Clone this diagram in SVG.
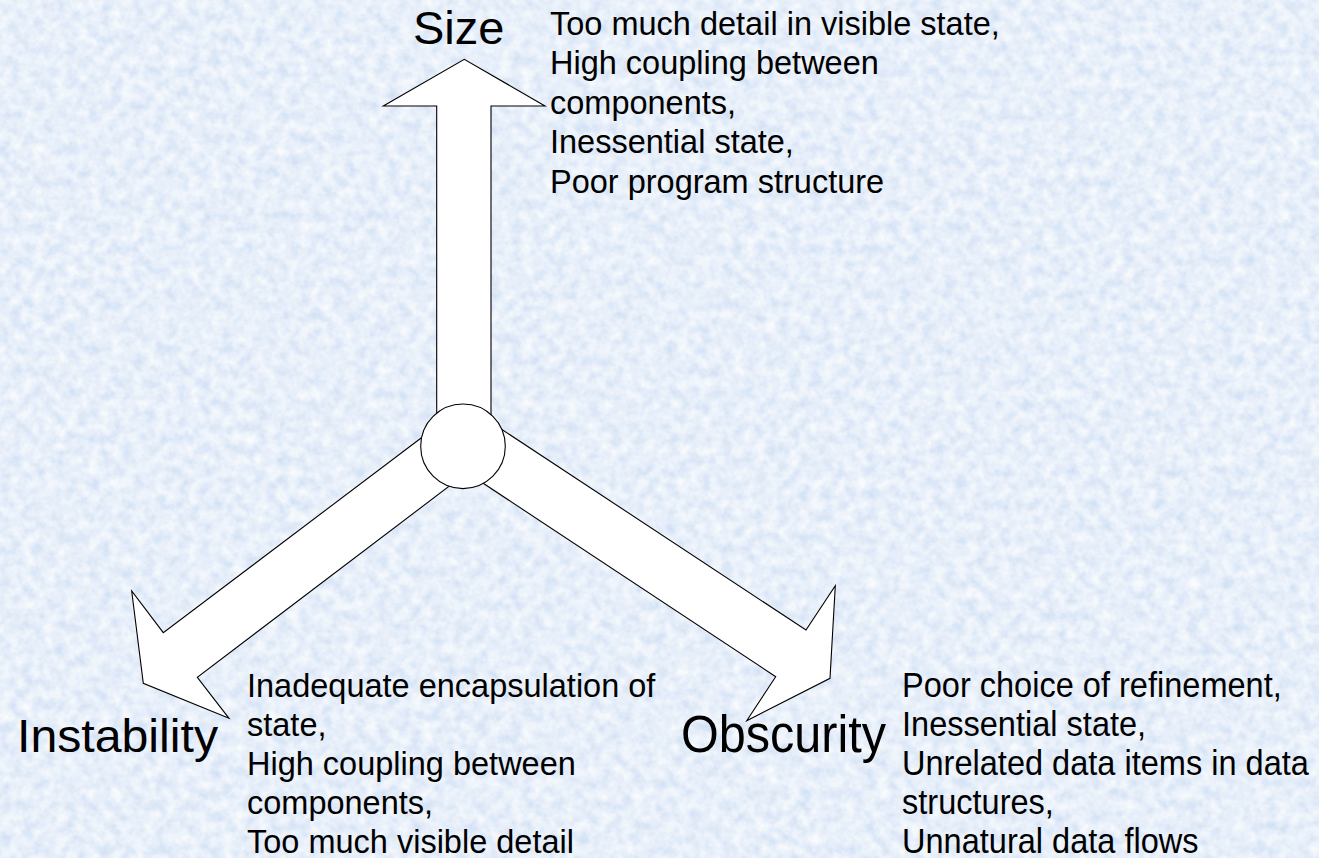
<svg xmlns="http://www.w3.org/2000/svg" width="1319" height="858" viewBox="0 0 1319 858">
  <defs>
    <filter id="tex" x="0" y="0" width="100%" height="100%" filterUnits="userSpaceOnUse">
      <feTurbulence type="fractalNoise" baseFrequency="0.09" numOctaves="3" seed="7" result="n"/>
      <feColorMatrix in="n" type="matrix" values="0.5 0 0 0 0.58  0.35 0 0 0 0.71  0.12 0 0 0 0.9  0 0 0 0 1"/>
    </filter>
    <style>
      .arrow { fill: #ffffff; stroke: #000000; stroke-width: 1.1; stroke-linejoin: miter; }
      .hub { fill: #ffffff; stroke: #000000; stroke-width: 1.1; }
      .label { font-family: "Liberation Sans", Arial, sans-serif; font-size: 47px; fill: #000000; }
      .note { font-family: "Liberation Sans", Arial, sans-serif; font-size: 32.5px; fill: #000000; }
      .note2 { font-family: "Liberation Sans", Arial, sans-serif; font-size: 35px; fill: #000000; }
    </style>
  </defs>
  <rect x="0" y="0" width="1319" height="858" fill="#d4e3f6"/>
  <rect x="0" y="0" width="1319" height="858" filter="url(#tex)" opacity="0.85"/>

  <g id="connectors">
    <polygon id="arrow-size" class="arrow" points="436.7,440 436.7,106 383.3,106 464.3,59.3 545,106 491,106 491,440"/>
    <polygon id="arrow-instability" class="arrow" points="436.7,426.3 163.3,632.7 131.7,591 143.3,683.3 229,718.3 197.3,677.3 464.3,474.7"/>
    <polygon id="arrow-obscurity" class="arrow" points="486,419 806,630 835.3,585.7 830,678.3 746.7,720.7 775.7,676.7 466.6,472.3"/>
  </g>

  <g id="hub">
    <circle class="hub" cx="463" cy="446.3" r="42.3"/>
  </g>

  <g id="node-size">
    <text class="label" x="413" y="43.5">Size</text>
    <text class="note" x="550" y="34.5">Too much detail in visible state,</text>
    <text class="note" x="550" y="74">High coupling between</text>
    <text class="note" x="550" y="113.5">components,</text>
    <text class="note" x="550" y="153">Inessential state,</text>
    <text class="note" x="550" y="192.5">Poor program structure</text>
  </g>

  <g id="node-instability">
    <text class="label" x="17" y="752" textLength="201" lengthAdjust="spacingAndGlyphs">Instability</text>
    <text class="note" x="247" y="697">Inadequate encapsulation of</text>
    <text class="note" x="247" y="736">state,</text>
    <text class="note" x="247" y="775">High coupling between</text>
    <text class="note" x="247" y="814">components,</text>
    <text class="note" x="247" y="853">Too much visible detail</text>
  </g>

  <g id="node-obscurity">
    <text class="label" x="681" y="752" style="font-size:51px" textLength="205" lengthAdjust="spacingAndGlyphs">Obscurity</text>
    <g transform="translate(902,0) scale(0.93,1)">
      <text class="note2" x="0" y="697">Poor choice of refinement,</text>
      <text class="note2" x="0" y="736">Inessential state,</text>
      <text class="note2" x="0" y="775">Unrelated data items in data</text>
      <text class="note2" x="0" y="814">structures,</text>
      <text class="note2" x="0" y="853">Unnatural data flows</text>
    </g>
  </g>
</svg>
